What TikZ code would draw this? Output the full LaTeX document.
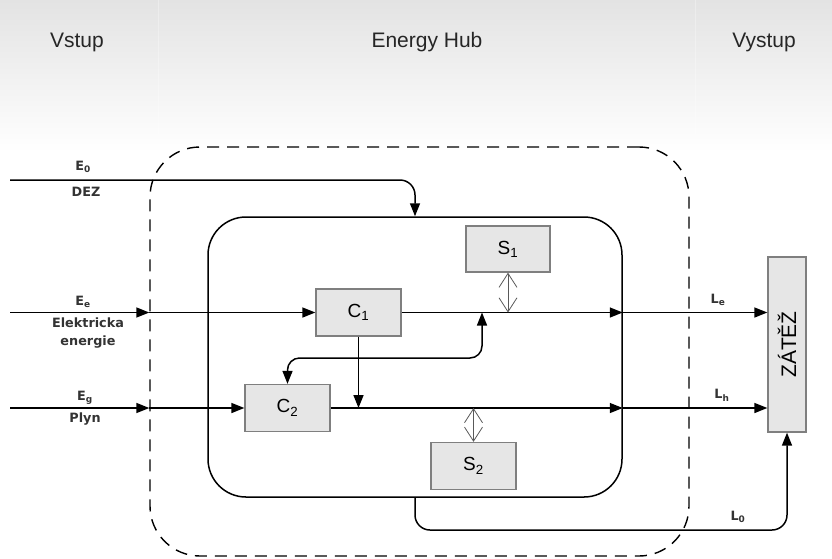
\documentclass[tikz,border=0pt]{standalone}
\usepackage{fontspec}
\setmainfont{Liberation Sans}
\newfontfamily\lblfont{DejaVu Sans}
\usetikzlibrary{arrows.meta}
\definecolor{boxfill}{HTML}{E6E6E6}
\definecolor{boxline}{HTML}{7F7F7F}
\definecolor{lbl}{HTML}{333333}

\tikzset{
  blk/.style={draw=boxline, fill=boxfill, line width=1.3pt, minimum width=85pt,
    minimum height=47pt, inner sep=0pt, font=\fontsize{19}{20}\selectfont},
  flow/.style={line width=1.5pt, -{Triangle[length=13pt,width=10pt]}},
  bi/.style={line width=1.5pt, {Triangle[length=13pt,width=10pt]}-{Triangle[length=13pt,width=10pt]}},
  store/.style={draw=black!65, line width=0.8pt,
    {Straight Barb[length=14pt,width=18pt]}-{Straight Barb[length=14pt,width=18pt]}},
  tag/.style={font=\lblfont\bfseries\fontsize{12.8}{18}\selectfont, text=lbl,
    inner sep=0pt, align=center},
  head/.style={font=\fontsize{21}{24}\selectfont, text=black!85}
}

\begin{document}
\begin{tikzpicture}[x=1pt,y=-1pt]
  \useasboundingbox (0,0) rectangle (832,558);

  % header band with its three columns
  \shade[top color=black!11, bottom color=white] (0,0) rectangle (832,152);
  \draw[white, line width=0.8pt, opacity=0.3] (158,0) -- (158,150);
  \draw[white, line width=0.8pt, opacity=0.3] (695,0) -- (695,150);
  \node[head] (hin)  at (77,42)  {Vstup};
  \node[head] (hmid) at (427,42) {Energy Hub};
  \node[head] (hout) at (764,42) {Vystup};

  % hub boundary and converter core
  \node[draw, dashed, dash pattern=on 12pt off 8pt, line width=1.4pt, rounded corners=50pt,
        minimum width=539pt, minimum height=409pt, inner sep=0pt] (eh) at (419.5,351.5) {};
  \node[draw, line width=1.5pt, rounded corners=38pt,
        minimum width=414pt, minimum height=280pt, inner sep=0pt] (hub) at (415,357) {};

  % converters, storages and load
  \node[blk] (C1) at (358.5,312.5) {C\textsubscript{1}};
  \node[blk] (C2) at (287.5,408) {C\textsubscript{2}};
  \node[blk, minimum width=84pt, minimum height=46pt] (S1) at (508,249) {S\textsubscript{1}};
  \node[blk] (S2) at (473.5,466) {S\textsubscript{2}};
  \node[blk, minimum width=38pt, minimum height=175pt, font=\fontsize{21}{22}\selectfont]
        (Z) at (787,344.5) {\rotatebox{90}{ZÁTĚŽ}};

  % free ends of the inputs and helper points
  \coordinate (e0) at (10,180);
  \coordinate (ee) at (10,312.5);
  \coordinate (eg) at (10,408);
  \coordinate (fb) at (482,358);
  \coordinate (lb) at (600,530);

  % district heating input
  \draw[flow, rounded corners=15pt] (e0) -| (hub.north);

  % electricity input
  \draw[flow] (ee) -- (eh.west |- ee);
  \draw[flow] (eh.west |- ee) -- (C1.west);
  \draw[flow] (C1.east) -- (hub.east |- C1.east);
  \draw[flow] (hub.east |- C1.east) -- (Z.west |- C1.east);

  % gas input
  \draw[flow] (eg) -- (eh.west |- eg);
  \draw[flow] (eh.west |- eg) -- (C2.west);
  \draw[flow] (C2.east) -- (hub.east |- C2.east);
  \draw[flow] (hub.east |- C2.east) -- (Z.west |- C2.east);

  % coupling between the two branches
  \draw[flow] (C1.south) -- (C1.south |- C2.east);
  \draw[bi, rounded corners=12pt] (C2.north) |- (fb) -- (fb |- C1.east);

  % storage exchange
  \draw[store] (S1.south) -- (S1.south |- C1.east);
  \draw[store] (S2.north) -- (S2.north |- C2.east);

  % direct supply to the load
  \draw[flow, rounded corners=15pt] (hub.south) |- (lb) -| (Z.south);

  % flow labels
  \node[tag] (l-e0)  at (83,167)  {E\textsubscript{0}};
  \node[tag] (l-dez) at (86,192)  {DEZ};
  \node[tag] (l-ee)  at (83,302)  {E\textsubscript{e}};
  \node[tag] (l-el)  at (88,333)  {Elektricka\\energie};
  \node[tag] (l-eg)  at (85,398)  {E\textsubscript{g}};
  \node[tag] (l-gas) at (85,419)  {Plyn};
  \node[tag] (l-le)  at (718,300) {L\textsubscript{e}};
  \node[tag] (l-lh)  at (722,395) {L\textsubscript{h}};
  \node[tag] (l-l0)  at (738,517) {L\textsubscript{0}};
\end{tikzpicture}
\end{document}
